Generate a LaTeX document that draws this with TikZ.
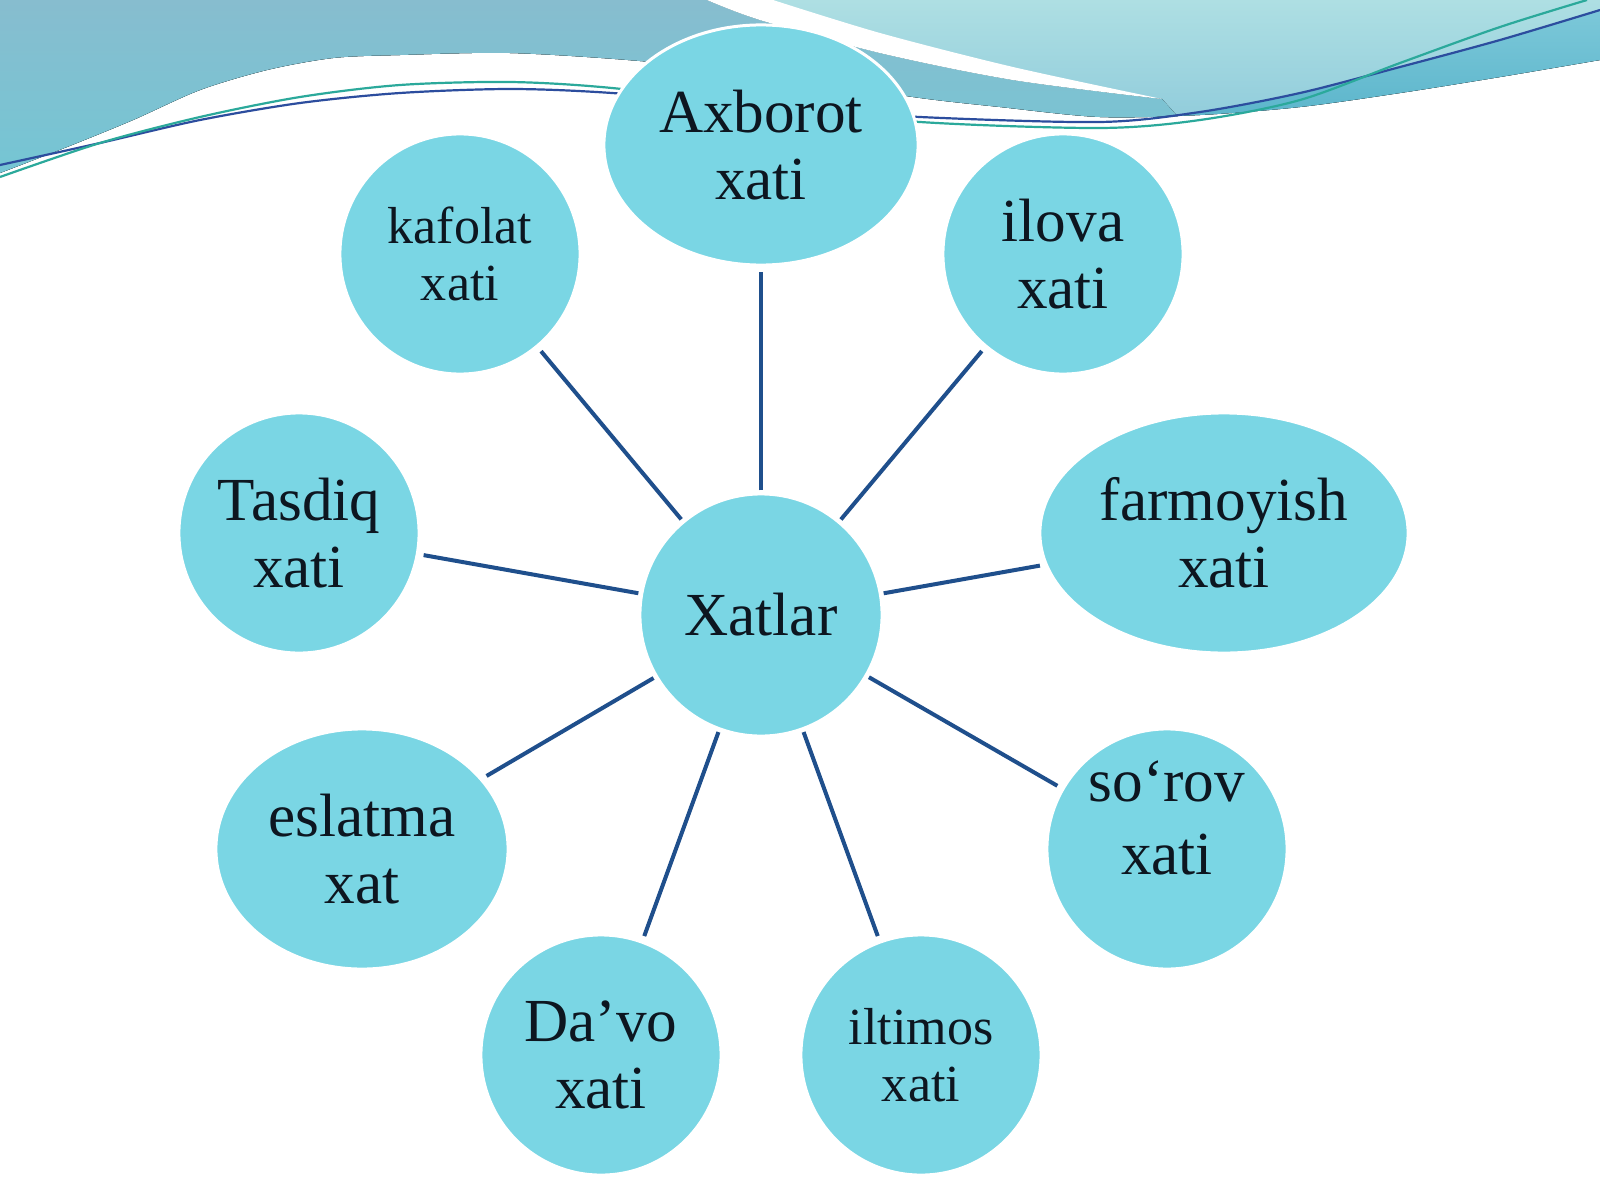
\documentclass[tikz,border=0pt]{standalone}
\usepackage{fontspec}
\setmainfont{Liberation Serif}
\usetikzlibrary{shapes.geometric}
\definecolor{nodefill}{HTML}{7AD6E4}
\definecolor{textcol}{HTML}{0D1620}
\definecolor{linkcol}{HTML}{1F4F8C}
\definecolor{regAtop}{HTML}{87BDCF}
\definecolor{regAbot}{HTML}{74C6D4}
\definecolor{regTop}{HTML}{AEDFE3}
\definecolor{regBot}{HTML}{84C4D8}
\definecolor{bandTop}{HTML}{7CC8D9}
\definecolor{bandBot}{HTML}{58B3CA}
\definecolor{waveBlue}{HTML}{2C4D9E}
\definecolor{waveGreen}{HTML}{2BA99B}
\begin{document}
\begin{tikzpicture}[x=0.01cm,y=-0.01cm,
  bubble/.style={ellipse, fill=nodefill, draw=white, line width=0.03cm, inner sep=0pt,
    text=textcol, align=center, font=\fontsize{17.4}{19.06}\selectfont},
  smalltext/.style={font=\fontsize{14.8}{16.2}\selectfont},
  plaintext/.style={inner sep=0pt, text=textcol, align=center, font=\fontsize{17.4}{20.7}\selectfont},
  link/.style={draw=linkcol, line width=0.04cm, shorten <=0.02cm, shorten >=0.05cm},
  waveline/.style={line width=0.022cm}
]
\useasboundingbox (0,0) rectangle (1600,1200);
\fill[white] (0,0) rectangle (1600,1200);

% top decorative region
\fill[top color=regTop, bottom color=regBot]
  (0,0) -- (1600,0) -- (1600,60) -- plot[smooth] coordinates {(1600,60) (1500,77) (1400,93) (1300,107) (1200,115) (1100,117) (1000,107) (913,97) (780,76) (640,61) (510,53) (400,55) (333,58) (267,70) (200,90) (133,120) (67,147) (0,173)} -- cycle;
\begin{scope}
  \clip (0,0) -- (1600,0) -- (1600,60) -- plot[smooth] coordinates {(1600,60) (1500,77) (1400,93) (1300,107) (1200,115) (1100,117) (1000,107) (913,97) (780,76) (640,61) (510,53) (400,55) (333,58) (267,70) (200,90) (133,120) (67,147) (0,173)} -- cycle;
  \fill[top color=regAtop, bottom color=regAbot] (0,0) -- (707,0) -- plot[smooth] coordinates {(707,0) (760,20) (880,53) (1013,80) (1162,99)} -- (1190,130) -- (0,180) -- cycle;
  \fill[top color=bandTop, bottom color=bandBot] plot[smooth] coordinates {(1100,122) (1200,112) (1300,93) (1400,67) (1500,40) (1600,10)} -- (1600,130) -- (1100,130) -- cycle;
\end{scope}
% white stripe
\fill[white] plot[smooth] coordinates {(773,0) (880,33) (1013,67) (1162,99)} -- plot[smooth] coordinates {(1162,99) (1013,80) (880,53) (760,20) (707,0)} -- cycle;
% thin wave lines
\draw[waveline, draw=waveBlue] plot[smooth] coordinates {(0,165) (100,143) (200,120) (300,103) (400,93) (510,89) (612,93) (761,106) (920,117) (1100,122) (1200,112) (1300,93) (1400,67) (1500,40) (1600,10)};
\draw[waveline, draw=waveGreen] plot[smooth] coordinates {(0,177) (100,143) (200,117) (300,97) (400,85) (510,82) (612,88) (761,106) (920,122) (1100,128) (1200,120) (1300,100) (1400,63) (1500,27) (1587,0)};

% nodes
\node[bubble, minimum width=3.14cm, minimum height=2.40cm] (ax) at (761,145) {Axborot\\xati};
\node[bubble, smalltext, minimum width=2.40cm, minimum height=2.40cm] (kaf) at (460,254) {kafolat\\xati};
\node[bubble, minimum width=2.40cm, minimum height=2.40cm] (ilo) at (1063,254) {ilova\\xati};
\node[bubble, minimum width=3.68cm, minimum height=2.40cm] (far) at (1224,533) {farmoyish\\xati};
\node[bubble, minimum width=2.40cm, minimum height=2.40cm] (tas) at (299,533) {Tasdiq\\xati};
\node[bubble, minimum width=2.42cm, minimum height=2.42cm] (xat) at (761,615) {Xatlar};
\node[bubble, minimum width=2.92cm, minimum height=2.40cm] (esl) at (362,849) {eslatma\\xat};
\node[bubble, minimum width=2.40cm, minimum height=2.40cm] (sor) at (1167,849) {};
\node[plaintext] (sortxt) at (1167,818) {so‘rov\\xati};
\node[bubble, minimum width=2.40cm, minimum height=2.40cm] (dav) at (601,1055) {Da’vo\\xati};
\node[bubble, smalltext, minimum width=2.40cm, minimum height=2.40cm] (ilt) at (921,1055) {iltimos\\xati};

% connectors
\foreach \t in {ax,kaf,ilo,far,tas,esl,sor,dav,ilt}
  \draw[link] (xat) -- (\t);
\end{tikzpicture}
\end{document}
